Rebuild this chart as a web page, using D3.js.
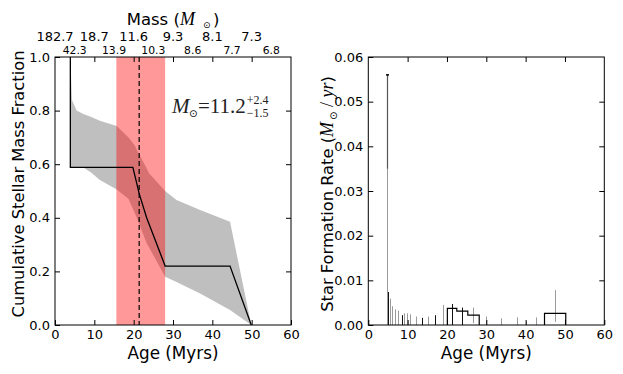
<!DOCTYPE html>
<html>
<head>
<meta charset="utf-8">
<script src="https://cdn.jsdelivr.net/npm/d3@7"></script>
<style>
  body { margin: 0; background: #fff; }
  svg { display: block; }
</style>
</head>
<body>
<div id="app"></div>
<script>
// ---- data ----
const ageTicks = [0, 10, 20, 30, 40, 50, 60];
const massAgesTop = [0, 10, 20, 30, 40, 50];
const massLabelsTop = ['182.7', '18.7', '11.6', '9.3', '8.1', '7.3'];
const massAgesLow = [5, 15, 25, 35, 45, 55];
const massLabelsLow = ['42.3', '13.9', '10.3', '8.6', '7.7', '6.8'];
const cmfTicks = [0, 0.2, 0.4, 0.6, 0.8, 1.0];
const sfrTicks = [0, 0.01, 0.02, 0.03, 0.04, 0.05, 0.06];

// cumulative mass fraction: uncertainty band
const bandAges  = [3.9, 4.3, 5.5, 7.2, 9.1, 11.4, 15.7, 18.7, 20.3, 20.8, 23.3, 23.9, 28.0, 30.9, 36.9, 44.5, 49.9];
const bandUpper = [1.0, 0.84, 0.80, 0.787, 0.777, 0.762, 0.743, 0.70, 0.67, 0.653, 0.585, 0.566, 0.50, 0.466, 0.429, 0.385, 0.0];
const bandLower = [0.588, 0.588, 0.588, 0.588, 0.57, 0.541, 0.506, 0.47, 0.417, 0.40, 0.305, 0.29, 0.18, 0.16, 0.118, 0.056, 0.0];

// cumulative mass fraction: median
const medianAges = [3.9, 3.9, 19.8, 20.6, 21.4, 23.3, 25.4, 28.0, 44.5, 49.9];
const medianFrac = [1.0, 0.588, 0.588, 0.54, 0.49, 0.40, 0.32, 0.22, 0.22, 0.0];

// age estimate
const ageBest = 21.4, ageLow = 15.6, ageHigh = 28.0;

// star formation rate: grey lines
const sfrGrayAges = [4.7, 5.5, 6.1, 6.8, 7.6, 9.2, 9.8, 10.6, 12.0, 15.3, 18.9, 26.7, 29.9, 33.7, 37.9, 40.1, 42.6, 47.5];
const sfrGrayLow  = [0, 0, 0, 0, 0, 0, 0, 0, 0, 0, 0, 0.0004, 0, 0, 0, 0, 0, 0.0007];
const sfrGrayHigh = [0.056, 0.0059, 0.0042, 0.0035, 0.0032, 0.0026, 0.0026, 0.0024, 0.0019, 0.0019, 0.0045, 0.0039, 0.0019, 0.0015, 0.0017, 0.0008, 0.0017, 0.0078];

// star formation rate: black lines
const sfrBlackAges = [4.9, 8.5, 13.6, 17.0, 21.4, 23.9];
const sfrBlackHigh = [0.0074, 0.0022, 0.0016, 0.0022, 0.0047, 0.0039];

// star formation rate: binned steps
const binEdgesA = [20.1, 22.5, 25.3, 28.2];
const binValsA  = [0.0037, 0.0031, 0.0022];
const binEdgesB = [44.8, 50.2];
const binValsB  = [0.0026];

// peak at the youngest age
const peakAge = 4.7, peakLow = 0.035, peakHigh = 0.056;

// ---- layout ----
const W = 623, H = 374;
const SANS = 'DejaVu Sans';
const SERIF = 'Liberation Serif';
const svg = d3.select('#app').append('svg')
  .attr('width', W).attr('height', H)
  .attr('font-family', SANS);

const xL = d3.scaleLinear().domain([0, 60]).range([55, 291]);
const yL = d3.scaleLinear().domain([0, 1]).range([325, 57]);
const xR = d3.scaleLinear().domain([0, 60]).range([368.3, 604.3]);
const yR = d3.scaleLinear().domain([0, 0.06]).range([325, 57]);

const drawFrame = (x, y, yTicks, yFmt) => {
  const g = svg.append('g');
  const style = (s) => s.attr('font-size', 13).attr('font-family', SANS)
    .call((s) => s.select('.domain').remove())
    .call((s) => s.selectAll('text').attr('fill', '#000'));
  g.append('g').attr('transform', `translate(0,${y.range()[0]})`)
    .call(d3.axisBottom(x).tickValues(ageTicks).tickSizeInner(-5).tickSizeOuter(0).tickPadding(5).tickFormat(d3.format('d')))
    .call(style);
  g.append('g').attr('transform', `translate(0,${y.range()[1]})`)
    .call(d3.axisTop(x).tickValues(ageTicks.slice(1, -1)).tickSizeInner(-5).tickSizeOuter(0).tickFormat(''))
    .call(style);
  g.append('g').attr('transform', `translate(${x.range()[0]},0)`)
    .call(d3.axisLeft(y).tickValues(yTicks).tickSizeInner(-5).tickSizeOuter(0).tickPadding(5).tickFormat(yFmt))
    .call(style);
  g.append('g').attr('transform', `translate(${x.range()[1]},0)`)
    .call(d3.axisRight(y).tickValues(yTicks.slice(1, -1)).tickSizeInner(-5).tickSizeOuter(0).tickFormat(''))
    .call(style);
  g.append('rect')
    .attr('x', x.range()[0]).attr('y', y.range()[1])
    .attr('width', x.range()[1] - x.range()[0])
    .attr('height', y.range()[0] - y.range()[1])
    .attr('fill', 'none').attr('stroke', '#000').attr('stroke-width', 1);
};

// ---- left panel ----
const left = svg.append('g');

const band = bandAges.map((a, i) => ({ a, lo: bandLower[i], hi: bandUpper[i] }));
left.append('path')
  .datum(band)
  .attr('d', d3.area().x((d) => xL(d.a)).y0((d) => yL(d.lo)).y1((d) => yL(d.hi)))
  .attr('fill', 'gray').attr('fill-opacity', 0.5);

left.append('rect')
  .attr('x', xL(ageLow)).attr('y', yL(1))
  .attr('width', xL(ageHigh) - xL(ageLow))
  .attr('height', yL(0) - yL(1))
  .attr('fill', 'red').attr('fill-opacity', 0.4);

left.append('path')
  .datum(medianAges.map((a, i) => [a, medianFrac[i]]))
  .attr('d', d3.line().x((d) => xL(d[0])).y((d) => yL(d[1])))
  .attr('fill', 'none').attr('stroke', '#000').attr('stroke-width', 1.3);

left.append('line')
  .attr('x1', xL(ageBest)).attr('x2', xL(ageBest))
  .attr('y1', yL(1)).attr('y2', yL(0))
  .attr('stroke', '#000').attr('stroke-width', 1.2).attr('stroke-dasharray', '5,3');

drawFrame(xL, yL, cmfTicks, d3.format('.1f'));

// top mass labels (two staggered rows)
left.append('g').selectAll('text').data(massAgesTop).join('text')
  .attr('x', (d) => xL(d)).attr('y', 40.5)
  .attr('text-anchor', 'middle').attr('font-size', 13)
  .text((d, i) => massLabelsTop[i]);
left.append('g').selectAll('text').data(massAgesLow).join('text')
  .attr('x', (d) => xL(d)).attr('y', 54)
  .attr('text-anchor', 'middle').attr('font-size', 10.8)
  .text((d, i) => massLabelsLow[i]);

// title
const title = left.append('text').attr('x', 173).attr('y', 24.5)
  .attr('text-anchor', 'middle').attr('font-size', 16.5);
title.append('tspan').text('Mass (');
title.append('tspan').attr('font-family', SERIF).attr('font-style', 'italic').attr('font-size', 18).text('M');
title.append('tspan').attr('font-size', 9).attr('dx', 8).attr('dy', 3).text('\u2299');
title.append('tspan').attr('dx', 2.5).attr('dy', -3).text(')');

// annotation
const ann = left.append('g').attr('font-family', SERIF).attr('fill', '#222');
ann.append('text').attr('x', 172).attr('y', 113).attr('font-size', 21).attr('font-style', 'italic').text('M');
ann.append('text').attr('x', 189).attr('y', 116.5).attr('font-size', 10.5).attr('font-family', SANS).text('\u2299');
const main = ann.append('text').attr('x', 198).attr('y', 113).attr('font-size', 21).text('=11.2');
const sx = 198 + main.node().getComputedTextLength() + 1;
ann.append('text').attr('x', sx).attr('y', 104).attr('font-size', 12).text('+2.4');
ann.append('text').attr('x', sx).attr('y', 117).attr('font-size', 12).text('\u22121.5');

// axis labels
left.append('text').attr('x', xL(30)).attr('y', 358.5)
  .attr('text-anchor', 'middle').attr('font-size', 16.8).text('Age (Myrs)');
left.append('text')
  .attr('transform', 'translate(24,184) rotate(-90)')
  .attr('text-anchor', 'middle').attr('font-size', 16.3)
  .text('Cumulative Stellar Mass Fraction');

// ---- right panel ----
const right = svg.append('g');

right.append('g').selectAll('line').data(sfrGrayAges).join('line')
  .attr('x1', (d) => Math.round(xR(d)) + 0.5).attr('x2', (d) => Math.round(xR(d)) + 0.5)
  .attr('y1', (d, i) => yR(sfrGrayLow[i])).attr('y2', (d, i) => yR(sfrGrayHigh[i]))
  .attr('stroke', '#9a9a9a').attr('stroke-width', 1);

right.append('g').selectAll('line').data(sfrBlackAges).join('line')
  .attr('x1', (d) => Math.round(xR(d)) + 0.5).attr('x2', (d) => Math.round(xR(d)) + 0.5)
  .attr('y1', yR(0)).attr('y2', (d, i) => yR(sfrBlackHigh[i]))
  .attr('stroke', '#111').attr('stroke-width', 1);

// peak error bar
const px = Math.round(xR(peakAge)) + 0.5;
right.append('line')
  .attr('x1', px).attr('x2', px).attr('y1', yR(peakLow)).attr('y2', yR(peakHigh))
  .attr('stroke', '#555').attr('stroke-width', 1.2);
right.append('line')
  .attr('x1', px - 1.5).attr('x2', px + 1.5).attr('y1', yR(peakHigh)).attr('y2', yR(peakHigh))
  .attr('stroke', '#000').attr('stroke-width', 1.5);

const stepPts = (edges, vals) => {
  const pts = [[edges[0], 0]];
  vals.forEach((v, i) => { pts.push([edges[i], v], [edges[i + 1], v]); });
  pts.push([edges[edges.length - 1], 0]);
  return pts;
};
const stepLine = d3.line().x((d) => xR(d[0])).y((d) => yR(d[1]));
[[binEdgesA, binValsA], [binEdgesB, binValsB]].forEach(([e, v]) => {
  right.append('path').datum(stepPts(e, v)).attr('d', stepLine)
    .attr('fill', 'none').attr('stroke', '#000').attr('stroke-width', 1.2);
});

drawFrame(xR, yR, sfrTicks, d3.format('.2f'));

right.append('text').attr('x', xR(30)).attr('y', 358.5)
  .attr('text-anchor', 'middle').attr('font-size', 16.8).text('Age (Myrs)');

const yl = right.append('text')
  .attr('transform', 'translate(333,194) rotate(-90)')
  .attr('text-anchor', 'middle').attr('font-size', 16.3);
yl.append('tspan').text('Star Formation Rate (');
yl.append('tspan').attr('font-family', SERIF).attr('font-style', 'italic').attr('font-size', 18).text('M');
yl.append('tspan').attr('font-size', 10).attr('dx', 2).attr('dy', 4).text('\u2299');
yl.append('tspan').attr('dy', -4).attr('font-family', SERIF).attr('font-size', 18).text(' / ');
yl.append('tspan').attr('font-family', SERIF).attr('font-style', 'italic').attr('font-size', 18).text('yr');
yl.append('tspan').text(')');
</script>
</body>
</html>
